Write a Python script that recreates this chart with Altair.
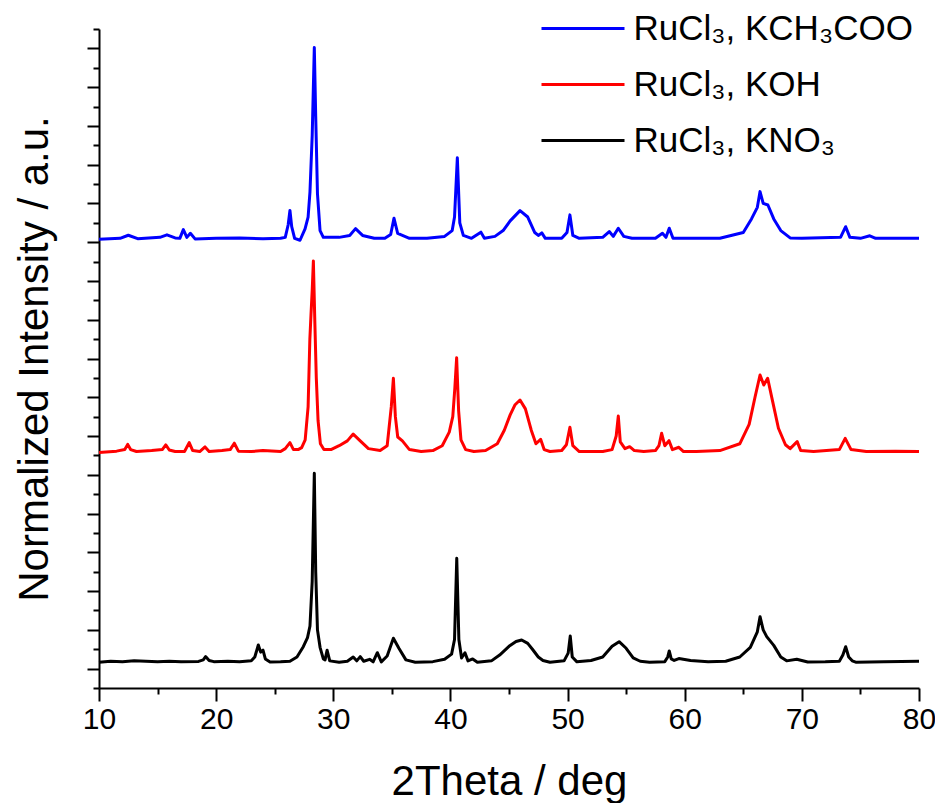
import altair as alt
import pandas as pd

FONT = "Liberation Sans"

series_names = ["RuCl₃, KCH₃COO", "RuCl₃, KOH", "RuCl₃, KNO₃"]
series_colors = ["#0000ff", "#ff0000", "#000000"]
x_tick_values = [10, 15, 20, 25, 30, 35, 40, 45, 50, 55, 60, 65, 70, 75, 80]
y_tick_values = list(range(0, 35))

blue_pts = [(10,23.15),(11.8,23.2),(12.5,23.36),(13.3,23.18),(15.2,23.25),(15.8,23.38),(16.5,23.22),(16.9,23.2),
            (17.2,23.65),(17.5,23.25),(17.8,23.46),(18.2,23.17),(20,23.2),(22,23.22),(24,23.18),(25.5,23.2),
            (25.9,23.25),(26.15,23.9),(26.3,24.64),(26.45,23.8),(26.7,23.2),(27.16,23.1),(27.59,23.69),(27.85,24.3),
            (28.01,25.6),(28.2,28.5),(28.38,33.04),(28.5,29.5),(28.65,25.5),(28.87,23.6),(29.15,23.25),(30.5,23.25),
            (31.4,23.35),(31.9,23.7),(32.5,23.35),(33.5,23.2),(34.4,23.2),(34.9,23.4),(35.18,24.24),(35.5,23.45),
            (36.5,23.2),(38,23.2),(39.5,23.3),(40.15,23.6),(40.35,24.3),(40.59,27.36),(40.8,24.0),(41.1,23.35),
            (41.8,23.2),(42.6,23.52),(42.9,23.2),(43.8,23.3),(44.5,23.6),(45.1,24.1),(45.94,24.63),(46.6,24.3),
            (47.2,23.5),(47.5,23.35),(47.8,23.48),(48.1,23.2),(49.5,23.2),(49.95,23.5),(50.2,24.41),(50.45,23.35),
            (51,23.2),(53.0,23.25),(53.56,23.55),(53.9,23.3),(54.33,23.72),(54.8,23.3),(55.5,23.2),(57.5,23.2),
            (58.1,23.46),(58.4,23.25),(58.68,23.72),(59,23.2),(61,23.2),(63,23.2),(65.0,23.5),(65.7,24.2),
            (66.2,24.8),(66.43,25.61),(66.7,25.0),(67.1,24.92),(67.6,24.2),(68.2,23.6),(69.0,23.22),(70,23.2),
            (73.3,23.25),(73.74,23.8),(74.1,23.25),(75.0,23.2),(75.8,23.33),(76.3,23.2),(80,23.2)]

red_pts = [(10,12.15),(11.5,12.22),(12.2,12.3),(12.45,12.57),(12.7,12.3),(13.2,12.2),(14.5,12.25),(15.4,12.3),
           (15.7,12.54),(16.0,12.28),(16.5,12.2),(17.3,12.2),(17.7,12.66),(18.0,12.25),(18.6,12.2),(19.05,12.44),
           (19.4,12.2),(20.5,12.25),(21.2,12.3),(21.55,12.63),(21.9,12.22),(23,12.2),(24,12.25),(25.5,12.2),
           (25.9,12.35),(26.3,12.66),(26.6,12.3),(27.0,12.3),(27.3,12.4),(27.6,12.8),(27.85,14.5),(28.0,18.0),
           (28.1,19.3),(28.2,20.5),(28.3,22.03),(28.42,19.0),(28.55,16.0),(28.7,13.8),(28.9,12.6),(29.2,12.3),
           (29.8,12.3),(30.5,12.5),(31.2,12.75),(31.7,13.1),(32.3,12.75),(33.0,12.35),(34.0,12.25),(34.6,12.5),
           (34.95,14.5),(35.13,15.98),(35.3,14.0),(35.5,12.95),(35.9,12.75),(36.5,12.3),(37.5,12.2),(38.5,12.25),
           (39.3,12.5),(39.9,13.2),(40.2,14.0),(40.38,15.5),(40.53,17.04),(40.7,14.3),(40.9,12.8),(41.3,12.3),
           (42.0,12.2),(43.0,12.25),(44.0,12.6),(44.6,13.3),(45.1,14.09),(45.5,14.6),(45.94,14.86),(46.4,14.4),
           (46.9,13.3),(47.3,12.6),(47.7,12.83),(48.0,12.3),(48.5,12.2),(49.5,12.25),(49.9,12.55),(50.2,13.45),
           (50.45,12.5),(51.0,12.2),(53.0,12.2),(53.8,12.3),(54.15,13.0),(54.33,14.03),(54.5,12.7),(54.9,12.35),
           (55.3,12.45),(55.7,12.25),(56.5,12.2),(57.5,12.25),(57.8,12.5),(58.03,13.14),(58.3,12.5),(58.66,12.76),
           (58.95,12.3),(59.5,12.42),(59.9,12.2),(61,12.2),(63,12.25),(64.7,12.6),(65.5,13.6),(66.0,15.0),
           (66.43,16.15),(66.75,15.63),(67.08,15.98),(67.5,14.8),(68.0,13.4),(68.6,12.55),(69.0,12.35),(69.6,12.71),
           (69.9,12.25),(71,12.2),(73.2,12.3),(73.7,12.88),(74.2,12.3),(75.5,12.2),(78,12.22),(80,12.2)]

black_pts = [(10,1.33),(11,1.38),(12,1.36),(13,1.40),(14,1.38),(15,1.36),(16,1.38),(17,1.35),(18.5,1.37),
             (18.9,1.45),(19.1,1.62),(19.4,1.42),(19.8,1.36),(21,1.38),(22,1.35),(23.0,1.40),(23.3,1.6),(23.6,2.22),
             (23.8,1.85),(24.0,1.95),(24.2,1.5),(24.6,1.34),(25.5,1.35),(26.3,1.38),(26.9,1.6),(27.44,2.13),
             (27.8,2.6),(28.01,3.2),(28.2,5.5),(28.38,11.08),(28.5,6.0),(28.65,3.0),(28.87,2.1),(29.15,1.5),
             (29.3,1.45),(29.47,1.95),(29.7,1.4),(30.5,1.33),(31.2,1.38),(31.7,1.6),(32.0,1.4),(32.3,1.62),
             (32.6,1.38),(33.1,1.48),(33.4,1.35),(33.76,1.82),(34.1,1.35),(34.6,1.65),(35.13,2.57),(35.6,2.05),
             (36.2,1.45),(37,1.33),(38.5,1.36),(39.5,1.48),(40.1,1.75),(40.35,2.5),(40.54,6.69),(40.72,2.5),
             (40.95,1.55),(41.24,1.82),(41.5,1.4),(41.9,1.5),(42.3,1.33),(43.5,1.40),(44.2,1.70),(45.0,2.15),
             (45.6,2.4),(46.08,2.48),(46.6,2.3),(47.0,2.0),(47.5,1.6),(47.9,1.42),(48.5,1.33),(49.7,1.40),
             (50.05,1.8),(50.23,2.68),(50.4,1.6),(50.8,1.35),(52,1.42),(53,1.6),(53.8,2.15),(54.4,2.39),
             (55.0,2.05),(55.6,1.55),(56.2,1.38),(57,1.33),(58.3,1.36),(58.55,1.6),(58.68,1.91),(58.85,1.5),
             (59.1,1.42),(59.5,1.52),(60.5,1.42),(62,1.36),(63.5,1.38),(64.7,1.6),(65.6,2.1),(66.2,2.9),
             (66.43,3.68),(66.7,3.0),(67.0,2.65),(67.6,2.2),(68.2,1.6),(68.7,1.40),(69.56,1.48),(70.5,1.34),
             (72,1.35),(73.2,1.38),(73.5,1.7),(73.74,2.13),(74.0,1.6),(74.3,1.40),(74.6,1.33),(77,1.36),(80,1.38)]

rows = []
for name, pts in zip(series_names, [blue_pts, red_pts, black_pts]):
    for x, y in pts:
        rows.append({"theta": x, "intensity": y, "series": name})
df = pd.DataFrame(rows)

x_axis = alt.Axis(
    title="2Theta / deg", values=x_tick_values,
    labelExpr="datum.value % 10 === 0 ? datum.label : ''",
    tickSize={"condition": {"test": "datum.value % 10 === 0", "value": 13}, "value": 6},
    tickWidth=2, tickColor="black", domainWidth=2, domainColor="black",
    labelFont=FONT, labelFontSize=30, labelColor="black", labelPadding=3,
    labelFlush=False, labelOverlap=False,
    titleFont=FONT, titleFontSize=42, titleFontWeight="normal", titleColor="black",
    titleY=93, titleBaseline="middle", grid=False,
)
y_axis = alt.Axis(
    title="Normalized Intensity / a.u.", values=y_tick_values, labels=False,
    tickSize={"condition": {"test": "datum.value % 2 === 1", "value": 12}, "value": 6},
    tickWidth=2, tickColor="black", domainWidth=2, domainColor="black",
    titleFont=FONT, titleFontSize=42, titleFontWeight="normal", titleColor="black",
    titleX=-65, titleY=329.5, titleAlign="center", titleBaseline="middle", titleAngle=270,
    grid=False,
)

legend = alt.Legend(
    title=None, orient="none", legendX=466.5, legendY=-18,
    symbolType="M-4.15,0H4.15", symbolSize=400, symbolStrokeWidth=3,
    labelFont=FONT, labelFontSize=35, labelColor="black", labelLimit=600,
    rowPadding=20, labelOffset=33, padding=0,
)

chart = alt.Chart(df).mark_line(strokeWidth=3, strokeJoin="round").encode(
    x=alt.X("theta:Q", scale=alt.Scale(domain=[10, 80], nice=False, zero=False), axis=x_axis),
    y=alt.Y("intensity:Q", scale=alt.Scale(domain=[0, 34], nice=False, zero=False), axis=y_axis),
    color=alt.Color("series:N", scale=alt.Scale(domain=series_names, range=series_colors), legend=legend),
).properties(
    width=820, height=659, autosize="none",
    padding={"left": 91, "top": 21, "right": 16, "bottom": 115},
    background="white",
).configure_view(stroke=None)

chart.save("out.html", embed_options={"renderer": "svg", "actions": False})
